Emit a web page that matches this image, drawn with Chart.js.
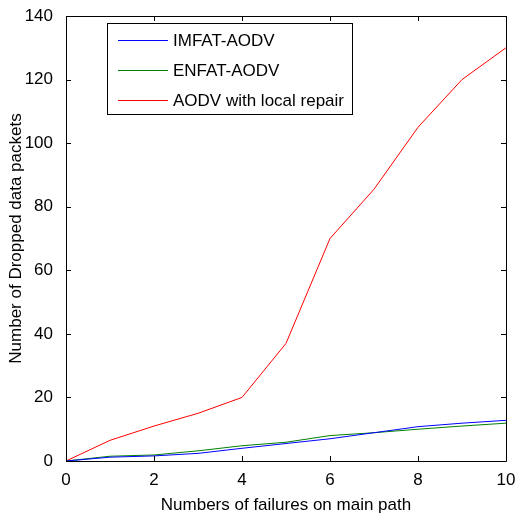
<!DOCTYPE html>
<html>
<head>
<meta charset="utf-8">
<script src="https://cdn.jsdelivr.net/npm/chart.js@4/dist/chart.umd.min.js"></script>
<style>
html,body{margin:0;padding:0;background:#fff;}
#wrap{width:515px;height:516px;}
</style>
</head>
<body>
<div id="wrap"><canvas id="c" width="515" height="516"></canvas></div>
<script>
const failures = [0,1,2,3,4,5,6,7,8,9,10];
const imfatAodv = [0,1.2,1.6,2.4,4.0,5.5,7.0,8.9,10.8,11.9,12.8];
const enfatAodv = [0,1.5,1.9,3.2,4.8,5.9,8.0,8.9,10.0,11.0,11.9];
const aodvLocalRepair = [0,6.5,11,15,20,37,70,85.5,105,120,130];
const seriesNames = ['IMFAT-AODV','ENFAT-AODV','AODV with local repair'];
const seriesColors = ['#0000ff','#008000','#ff0000'];
const xTicks = [0,2,4,6,8,10];
const yTicks = [0,20,40,60,80,100,120,140];

const FONT = '"Liberation Sans", Arial, sans-serif';

function pts(vals){ return failures.map((f,i)=>({x:f,y:vals[i]})); }

const boxPlugin = {
  id:'matlabBox',
  afterDatasetsDraw(chart){
    const {ctx, chartArea:a, scales} = chart;
    ctx.save();
    ctx.strokeStyle = '#000';
    ctx.lineWidth = 1;
    ctx.beginPath();
    ctx.rect(Math.round(a.left)+0.5, Math.round(a.top)+0.5, Math.round(a.right-a.left), Math.round(a.bottom-a.top));
    ctx.stroke();
    const tl = 5;
    ctx.beginPath();
    yTicks.forEach(v=>{
      const y = Math.round(scales.y.getPixelForValue(v))+0.5;
      ctx.moveTo(a.left, y); ctx.lineTo(a.left+tl, y);
      ctx.moveTo(a.right, y); ctx.lineTo(a.right-tl, y);
    });
    xTicks.forEach(v=>{
      const x = Math.round(scales.x.getPixelForValue(v))+0.5;
      ctx.moveTo(x, a.bottom); ctx.lineTo(x, a.bottom-tl);
      ctx.moveTo(x, a.top); ctx.lineTo(x, a.top+tl);
    });
    ctx.stroke();
    // legend
    const lx=107.5, ly=23.5, lw=245, lh=91;
    ctx.fillStyle='#fff';
    ctx.fillRect(lx,ly,lw,lh);
    ctx.strokeRect(lx,ly,lw,lh);
    ctx.font = '17px '+FONT;
    ctx.textBaseline='middle';
    ctx.textAlign='left';
    chart.data.datasets.forEach((ds,i)=>{
      const yy = 40.5 + i*30;
      ctx.strokeStyle = ds.borderColor;
      ctx.beginPath(); ctx.moveTo(118,yy); ctx.lineTo(168,yy); ctx.stroke();
      ctx.fillStyle='#000';
      ctx.fillText(ds.label, 173, yy+1);
    });
    ctx.restore();
  }
};

new Chart(document.getElementById('c'), {
  type:'line',
  data:{
    datasets:[
      {label:seriesNames[0], data:pts(imfatAodv), borderColor:seriesColors[0]},
      {label:seriesNames[1], data:pts(enfatAodv), borderColor:seriesColors[1]},
      {label:seriesNames[2], data:pts(aodvLocalRepair), borderColor:seriesColors[2]}
    ].map(d=>Object.assign(d,{borderWidth:1, pointRadius:0, tension:0, fill:false}))
  },
  options:{
    responsive:false,
    animation:false,
    layout:{autoPadding:false, padding:{left:0, top:16, right:9, bottom:0}},
    plugins:{legend:{display:false}, tooltip:{enabled:false}},
    scales:{
      x:{
        type:'linear', min:0, max:10,
        afterFit(s){ s.height = 55; s.paddingLeft = 0; s.paddingRight = 0; },
        afterBuildTicks(s){ s.ticks = xTicks.map(v=>({value:v})); },
        grid:{display:false}, border:{display:false},
        ticks:{font:{family:FONT,size:17}, color:'#000', padding:1, maxRotation:0},
        title:{display:true, text:'Numbers of failures on main path', font:{family:FONT,size:17}, color:'#000', padding:{top:0,bottom:0}}
      },
      y:{
        type:'linear', min:0, max:140,
        afterFit(s){ s.width = 66; s.paddingTop = 0; s.paddingBottom = 0; },
        afterBuildTicks(s){ s.ticks = yTicks.map(v=>({value:v})); },
        grid:{display:false}, border:{display:false},
        ticks:{font:{family:FONT,size:17}, color:'#000', padding:5},
        title:{display:true, text:'Number of Dropped data packets', font:{family:FONT,size:17}, color:'#000', padding:{top:6,bottom:0}}
      }
    }
  },
  plugins:[boxPlugin]
});
</script>
</body>
</html>
